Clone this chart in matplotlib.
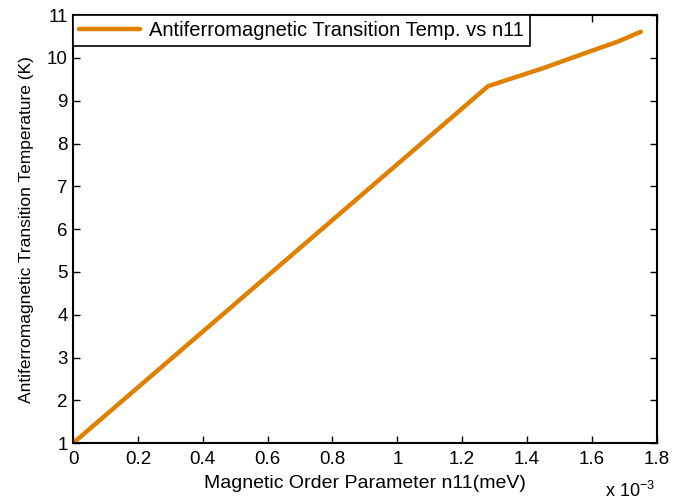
import numpy as np
import matplotlib
matplotlib.use('Agg')
import matplotlib.pyplot as plt

plt.rcParams['font.family'] = ['Liberation Sans', 'DejaVu Sans']

# data
n11 = np.array([0.0, 1.28e-3, 1.45e-3, 1.56e-3, 1.68e-3, 1.751e-3])  # meV
t_neel = np.array([1.0, 9.34, 9.76, 10.06, 10.38, 10.61])  # K

fig = plt.figure(figsize=(6.77, 5.03), dpi=100)
ax = fig.add_axes([0.108, 0.119, 0.862, 0.851])

ax.plot(n11 * 1e3, t_neel, color='#E08000', lw=3.2, solid_capstyle='round',
        label='Antiferromagnetic Transition Temp. vs n11')

ax.set_xlim(0, 1.8)
ax.set_ylim(1, 11)
ax.set_xticks(np.arange(0, 1.81, 0.2))
ax.set_xticklabels(['0', '0.2', '0.4', '0.6', '0.8', '1', '1.2', '1.4', '1.6', '1.8'])
ax.set_yticks(np.arange(1, 12, 1))
ax.tick_params(direction='in', top=True, right=True, length=5, width=1, labelsize=13.5)
ax.tick_params(axis='x', pad=6)
ax.tick_params(axis='y', pad=4)
for s in ax.spines.values():
    s.set_linewidth(1.5)

ax.set_xlabel('Magnetic Order Parameter n11(meV)', fontsize=14, labelpad=5)
ax.set_ylabel('Antiferromagnetic Transition Temperature (K)', fontsize=12.5, labelpad=9)
fig.text(0.968, 0.004, r'x 10$^{\mathregular{-3}}$', ha='right', va='bottom', fontsize=13)

leg = ax.legend(loc='upper left', fontsize=14.5, fancybox=False, framealpha=1,
                edgecolor='black', borderaxespad=0.0, handlelength=3.0,
                borderpad=0.3, handletextpad=0.45)
leg.get_frame().set_linewidth(1.2)

plt.savefig('out.png', dpi=100)
